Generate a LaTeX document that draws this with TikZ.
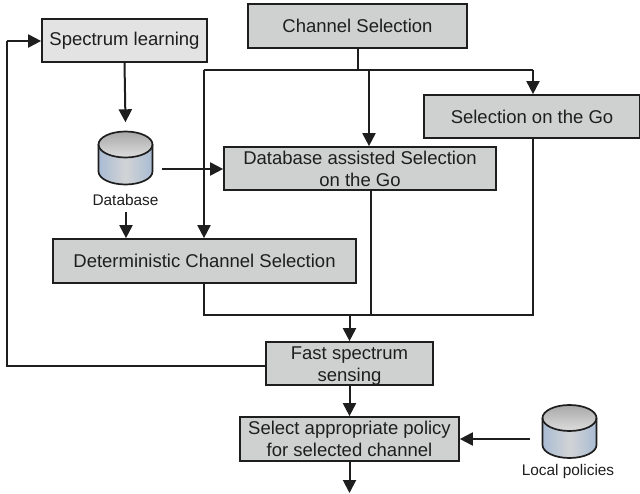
\documentclass[tikz,border=0pt]{standalone}
\usepackage{fontspec}
\setmainfont{Liberation Sans}
\usetikzlibrary{arrows.meta}
\definecolor{boxfill}{HTML}{CFD1D0}
\definecolor{boxlight}{HTML}{E2E3E2}
\definecolor{ink}{HTML}{1E1E1E}
\definecolor{cyltop}{HTML}{A8A8A8}
\definecolor{cyltopb}{HTML}{DDDDDD}
\definecolor{cylside}{HTML}{A9BBD3}
\definecolor{cylmid}{HTML}{D2D4D6}
\tikzset{
  flowbox/.style={draw=ink,line width=1.7pt,fill=boxfill,inner sep=0pt,align=center,text=ink,
    font=\fontsize{18.5}{22}\selectfont},
  link/.style={draw=ink,line width=2pt,line join=miter},
  arr/.style={link,-{Triangle[length=13pt,width=13pt]}},
  dblabel/.style={text=ink,inner sep=0pt,font=\fontsize{15.4}{18}\selectfont},
  dbslot/.style={inner sep=0pt,minimum width=55pt,minimum height=54pt},
}
\newcommand{\drumshape}[1]{%
  \begin{scope}[shift={(#1)}]
    \path[left color=cylside,right color=cylside,middle color=cylmid]
      (-27,-13) -- (-27,14) arc[start angle=180,end angle=0,x radius=27,y radius=13]
      -- (27,-13) -- cycle;
    \path[top color=cyltop,bottom color=cyltopb]
      (0,-13) ellipse[x radius=27,y radius=13];
    \draw[ink,line width=1.7pt]
      (-27,-13) -- (-27,14) arc[start angle=180,end angle=0,x radius=27,y radius=13] -- (27,-13);
    \draw[ink,line width=1.7pt] (0,-13) ellipse[x radius=27,y radius=13];
  \end{scope}}
\begin{document}
\begin{tikzpicture}[x=1pt,y=-1pt]
\useasboundingbox (0,0) rectangle (640,494);
\fill[white] (0,0) rectangle (640,494);
\node[flowbox,fill=boxlight,minimum width=165pt,minimum height=43pt] (learn) at (124.5,40.5) {Spectrum learning};
\node[flowbox,minimum width=219pt,minimum height=44pt] (chan) at (357.5,26) {Channel Selection};
\node[flowbox,minimum width=216pt,minimum height=43pt] (go) at (532,116.5) {Selection on the Go};
\node[flowbox,minimum width=272pt,minimum height=43pt] (dbgo) at (360,168.5) {Database assisted Selection\\on the Go};
\node[flowbox,minimum width=303pt,minimum height=44pt] (det) at (204.5,261) {Deterministic Channel Selection};
\node[flowbox,minimum width=167pt,minimum height=43pt] (fast) at (349.5,363.5) {\raisebox{-2.5pt}[13pt][0pt]{Fast spectrum}\\\raisebox{-2.5pt}[0pt][4pt]{sensing}};
\node[flowbox,minimum width=219pt,minimum height=44pt] (policy) at (349.5,439) {Select appropriate policy\\for selected channel};
\node[dbslot] (db) at (125.5,157.5) {};
\drumshape{125.5,157.5}
\node[dblabel] (dbtext) at (125.5,200) {Database};
\node[dbslot] (local) at (569.5,431) {};
\drumshape{569.5,431}
\node[dblabel] (localtext) at (568,472) {Local policies};
\coordinate (busL) at (204,70.5);
\coordinate (busM) at (358,70.5);
\coordinate (busC) at (369,70.5);
\coordinate (busR) at (533,70.5);
\coordinate (joinL) at (204,315.5);
\coordinate (joinM) at (371,315.5);
\coordinate (joinF) at (349.5,315.5);
\coordinate (joinR) at (533,315.5);
\coordinate (loopB) at (7,366);
\coordinate (loopT) at (7,41);
\coordinate (dbout) at (162,169);
\coordinate (localout) at (530,439);
\coordinate (dbdown) at (126,212);
\coordinate (exit) at (349.5,493);
\draw[link] (chan.south -| busM) -- (busM);
\draw[link] (busL) -- (busR);
\draw[arr] (busL) -- (det.north -| busL);
\draw[arr] (busC) -- (dbgo.north -| busC);
\draw[arr] (busR) -- (go.north -| busR);
\draw[link] (det.south -| joinL) -- (joinL) -- (joinR) -- (go.south -| joinR);
\draw[link] (dbgo.south -| joinM) -- (joinM);
\draw[arr] (joinF) -- (fast.north);
\draw[arr] (fast.south) -- (policy.north);
\draw[arr] (policy.south) -- (exit);
\draw[link] (fast.west |- loopB) -- (loopB) -- (loopT);
\draw[arr] (loopT) -- (learn.west |- loopT);
\draw[arr] (learn.south) -- ([yshift=8pt]db.north);
\draw[arr] (dbout) -- (dbgo.west |- dbout);
\draw[arr] (dbdown) -- (det.north -| dbdown);
\draw[arr] (localout) -- (policy.east |- localout);
\end{tikzpicture}
\end{document}
